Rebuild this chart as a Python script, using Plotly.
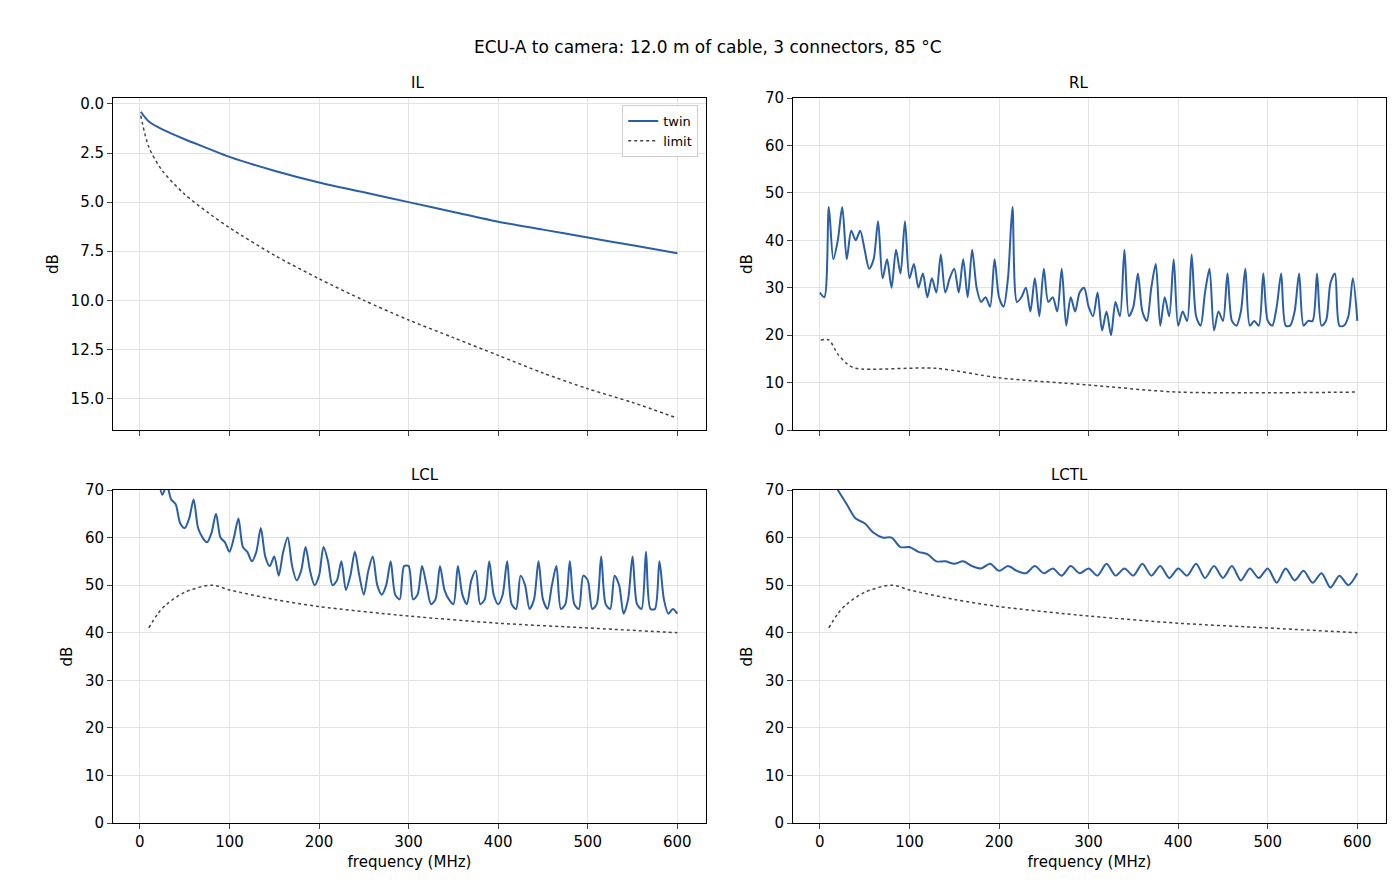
import plotly.graph_objects as go

# IL (insertion loss)
il_f = [1, 10, 25, 50, 75, 100, 150, 200, 250, 300, 350, 400, 450, 500, 550, 600]
il_twin = [0.4, 0.9, 1.3, 1.8, 2.25, 2.7, 3.4, 4.0, 4.5, 5.0, 5.5, 6.0, 6.4, 6.8, 7.2, 7.6]
il_limit = [0.6, 2.2, 3.4, 4.6, 5.5, 6.3, 7.7, 8.9, 10.0, 11.0, 11.9, 12.8, 13.7, 14.5, 15.2, 16.0]

# RL (return loss)
rl_f = list(range(0, 601, 5))
rl_twin = [29, 28, 47, 36, 40, 47, 36, 42, 40, 42, 38, 34, 36, 44, 32, 36, 30, 38, 33, 44,
           32, 35, 30, 33, 28, 32, 29, 37, 29, 32, 34, 29, 36, 28, 38, 30, 27, 28, 26, 36,
           28, 26, 32, 47, 27, 28, 30, 25, 32, 24, 34, 27, 28, 25, 34, 22, 28, 25, 29, 30,
           26, 24, 29, 21, 25, 20, 27, 24, 38, 24, 26, 33, 25, 23, 30, 35, 22, 28, 24, 36,
           22, 25, 23, 37, 24, 22, 29, 34, 21, 25, 23, 33, 23, 22, 25, 34, 22, 23, 22, 33,
           23, 22, 26, 33, 22, 22, 25, 33, 22, 23, 23, 33, 22, 23, 31, 33, 22, 22, 24, 32, 23]
rl_limit_f = [1, 10, 20, 30, 40, 130, 200, 300, 400, 600]
rl_limit = [19, 19, 16, 14, 13, 13, 11, 9.5, 8, 8]

# LCL
lcl_f = list(range(10, 601, 5))
lcl_twin = [78, 76, 73, 69, 71, 68, 67, 63, 62, 64, 68, 62, 60, 59, 61, 65, 60, 59, 57, 60,
            64, 58, 57, 55, 57, 62, 56, 54, 56, 52, 57, 60, 54, 51, 53, 58, 53, 50, 52, 58,
            55, 50, 51, 55, 49, 52, 57, 52, 48, 53, 56, 50, 48, 50, 55, 48, 47, 54, 54, 47,
            48, 54, 50, 46, 47, 54, 49, 47, 46, 54, 48, 46, 51, 53, 46, 47, 55, 48, 46, 48,
            55, 46, 45, 52, 50, 45, 47, 55, 47, 45, 50, 54, 45, 46, 55, 46, 45, 52, 51, 45,
            46, 56, 46, 45, 52, 50, 44, 47, 56, 46, 45, 57, 45, 45, 55, 47, 44, 45, 44]

# LCTL
lctl_f = list(range(20, 601, 10))
lctl_twin = [70, 67, 64, 63, 61, 60, 60, 58, 58, 57, 56.5, 55, 55, 54.5, 55, 54, 53.5, 54.5, 53, 54,
             53, 52.5, 54, 52.5, 53.5, 52, 54, 52.5, 53.5, 52, 54.5, 52, 53.5, 52, 54.5, 52, 54, 51.5, 53.5, 52,
             54.5, 51.5, 54, 51.5, 54, 51, 53.5, 51.5, 53.5, 50.5, 53.5, 51, 53, 50.5, 52.5, 49.5, 52, 50, 52.5]
lc_limit_f = [10, 20, 30, 50, 80, 100, 150, 200, 300, 400, 500, 600]
lc_limit = [41, 44, 46, 48.5, 50, 49, 47, 45.5, 43.5, 42, 41, 40]

BLUE = "#2a5fa8"
GREY = "#444444"

fig = go.Figure()

def add(f, y, ax, dotted=False, name=None, show=False):
    fig.add_trace(go.Scatter(
        x=f, y=y, xaxis="x" + ax, yaxis="y" + ax, mode="lines", name=name, showlegend=show,
        line=dict(color=GREY if dotted else BLUE, width=1.5 if dotted else 2,
                  dash="dot" if dotted else "solid", shape="spline", smoothing=0.8)))

add(il_f, il_twin, "", name="twin", show=True)
add(il_f, il_limit, "", dotted=True, name="limit", show=True)
add(rl_f, rl_twin, "2")
add(rl_limit_f, rl_limit, "2", dotted=True)
add(lcl_f, lcl_twin, "3")
add(lc_limit_f, lc_limit, "3", dotted=True)
add(lctl_f, lctl_twin, "4")
add(lc_limit_f, lc_limit, "4", dotted=True)

xd_l = [105 / 1400, 698 / 1400]
xd_r = [785 / 1400, 1378 / 1400]
yd_t = [1 - 422 / 896, 1 - 90 / 896]
yd_b = [1 - 815 / 896, 1 - 482 / 896]

common = dict(showline=True, mirror=True, linecolor="black", linewidth=1, ticks="outside",
              gridcolor="#e3e3e3", zeroline=False, tickfont=dict(size=15), automargin=False)
xcommon = dict(common, range=[-30, 632], tickvals=[0, 100, 200, 300, 400, 500, 600])
ytitle = dict(text="dB", font=dict(size=15), standoff=8)

fig.update_layout(
    width=1400, height=896, plot_bgcolor="white", paper_bgcolor="white",
    margin=dict(l=0, r=0, t=0, b=0, pad=0, autoexpand=False),
    font=dict(family="DejaVu Sans", color="black"),
    xaxis=dict(xcommon, domain=xd_l, anchor="y", showticklabels=False),
    yaxis=dict(common, domain=yd_t, anchor="x", range=[16.6, -0.3],
               tickvals=[0, 2.5, 5, 7.5, 10, 12.5, 15],
               ticktext=["0.0", "2.5", "5.0", "7.5", "10.0", "12.5", "15.0"], title=ytitle),
    xaxis2=dict(xcommon, domain=xd_r, anchor="y2", showticklabels=False),
    yaxis2=dict(common, domain=yd_t, anchor="x2", range=[0, 70], dtick=10, title=ytitle),
    xaxis3=dict(xcommon, domain=xd_l, anchor="y3",
                title=dict(text="frequency (MHz)", font=dict(size=15), standoff=6)),
    yaxis3=dict(common, domain=yd_b, anchor="x3", range=[0, 70], dtick=10, title=ytitle),
    xaxis4=dict(xcommon, domain=xd_r, anchor="y4",
                title=dict(text="frequency (MHz)", font=dict(size=15), standoff=6)),
    yaxis4=dict(common, domain=yd_b, anchor="x4", range=[0, 70], dtick=10, title=ytitle),
    legend=dict(x=0.493, y=1 - 97 / 896, xanchor="right", yanchor="top",
                bgcolor="rgba(255,255,255,0.8)", bordercolor="#cccccc", borderwidth=1,
                font=dict(size=13)),
)

fig.add_annotation(text="ECU-A to camera: 12.0 m of cable, 3 connectors, 85 °C",
                   x=0.5, y=1 - 27 / 896, xref="paper", yref="paper", showarrow=False,
                   font=dict(size=17))
for title, xd, yd in [("IL", xd_l, yd_t), ("RL", xd_r, yd_t), ("LCL", xd_l, yd_b), ("LCTL", xd_r, yd_b)]:
    fig.add_annotation(text=title, x=(xd[0] + xd[1]) / 2, y=yd[1], xref="paper", yref="paper",
                       yanchor="bottom", yshift=4, showarrow=False, font=dict(size=15))

fig.write_html("out.html")
